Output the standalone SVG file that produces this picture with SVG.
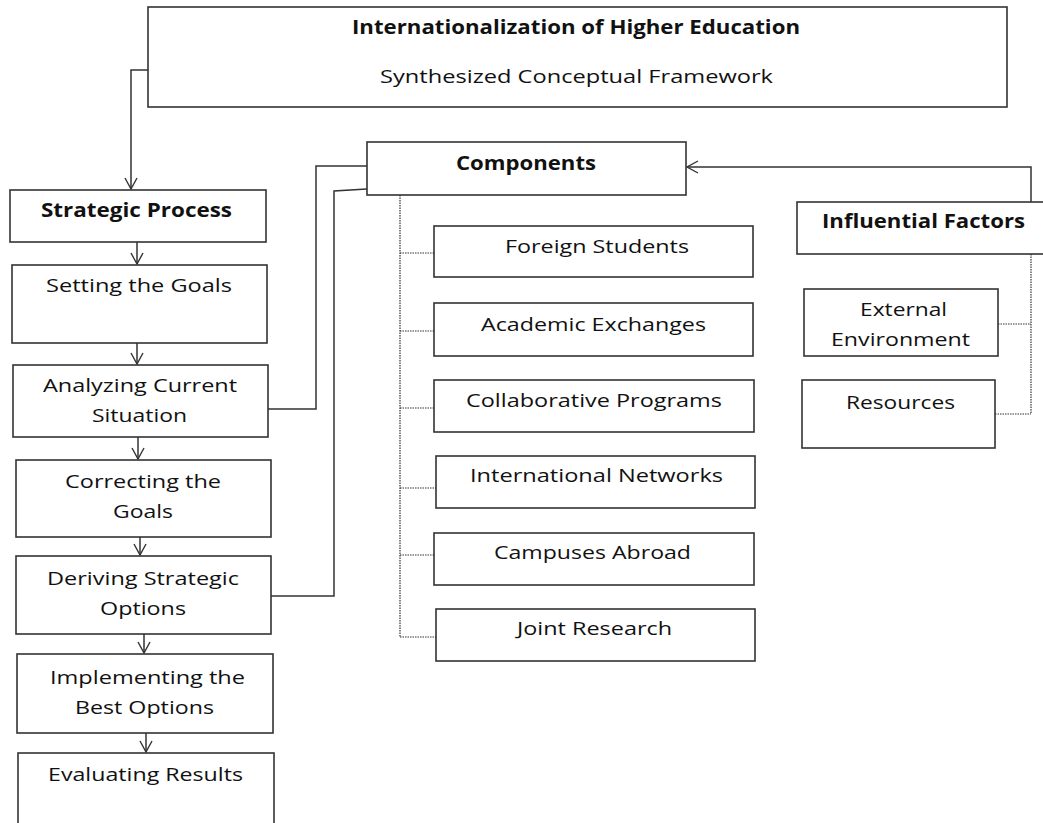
<svg xmlns="http://www.w3.org/2000/svg" width="1043" height="823" viewBox="0 0 1043 823">
<defs>
<marker id="arr" markerUnits="userSpaceOnUse" markerWidth="14" markerHeight="14" viewBox="0 0 14 14" refX="13" refY="7" orient="auto">
<path d="M2,1 L13,7 L2,13" fill="none" stroke="#333" stroke-width="1.4"/>
</marker>
</defs>
<style>
.box{fill:#fff;stroke:#333;stroke-width:1.6}
.t{font-family:"Open Sans","DejaVu Sans",sans-serif;font-size:19px;fill:#111}
.b{font-weight:bold}
.ln{fill:none;stroke:#333;stroke-width:1.5}
.dot{fill:none;stroke:#333;stroke-width:1.2;stroke-dasharray:1.5 1}
</style>
<rect width="1043" height="823" fill="#fff"/>
<g id="connectors">
<path class="ln" d="M148,70 H131 V189" marker-end="url(#arr)"/>
<path class="ln" d="M137,242 V264" marker-end="url(#arr)"/>
<path class="ln" d="M137,343 V364" marker-end="url(#arr)"/>
<path class="ln" d="M138,437 V459" marker-end="url(#arr)"/>
<path class="ln" d="M140,537 V555" marker-end="url(#arr)"/>
<path class="ln" d="M144,634 V653" marker-end="url(#arr)"/>
<path class="ln" d="M146,733 V752" marker-end="url(#arr)"/>
<path class="ln" d="M268,409 H316 V166 H367"/>
<path class="ln" d="M271,596 H334 V191 L367,189"/>
<path class="ln" d="M1031,202 V167 H687" marker-end="url(#arr)"/>
<path class="dot" d="M400,195 V637"/>
<path class="dot" d="M400,253 H434 M400,331 H434 M400,408 H434 M400,488 H436 M400,555 H434 M400,637 H436"/>
<path class="dot" d="M1031,254 V414"/>
<path class="dot" d="M998,324 H1031 M995,414 H1031"/>
</g>
<g id="n-title">
<rect class="box" x="148" y="7" width="859" height="100"/>
<text class="t b" x="352" y="34" textLength="448" lengthAdjust="spacingAndGlyphs">Internationalization of Higher Education</text>
<text class="t" x="380" y="83" textLength="393" lengthAdjust="spacingAndGlyphs">Synthesized Conceptual Framework</text>
</g>
<g id="n-strategic">
<rect class="box" x="10" y="190" width="256" height="52"/>
<text class="t b" x="41" y="217" textLength="191" lengthAdjust="spacingAndGlyphs">Strategic Process</text>
</g>
<g id="n-setting">
<rect class="box" x="12" y="265" width="255" height="78"/>
<text class="t" x="46" y="292" textLength="186" lengthAdjust="spacingAndGlyphs">Setting the Goals</text>
</g>
<g id="n-analyzing">
<rect class="box" x="13" y="365" width="255" height="72"/>
<text class="t" x="43" y="392" textLength="194" lengthAdjust="spacingAndGlyphs">Analyzing Current</text>
<text class="t" x="92" y="422" textLength="95" lengthAdjust="spacingAndGlyphs">Situation</text>
</g>
<g id="n-correcting">
<rect class="box" x="16" y="460" width="255" height="77"/>
<text class="t" x="65" y="488" textLength="156" lengthAdjust="spacingAndGlyphs">Correcting the</text>
<text class="t" x="113" y="518" textLength="60" lengthAdjust="spacingAndGlyphs">Goals</text>
</g>
<g id="n-deriving">
<rect class="box" x="16" y="556" width="255" height="78"/>
<text class="t" x="47" y="585" textLength="192" lengthAdjust="spacingAndGlyphs">Deriving Strategic</text>
<text class="t" x="100" y="615" textLength="86" lengthAdjust="spacingAndGlyphs">Options</text>
</g>
<g id="n-implementing">
<rect class="box" x="17" y="654" width="256" height="79"/>
<text class="t" x="50" y="684" textLength="195" lengthAdjust="spacingAndGlyphs">Implementing the</text>
<text class="t" x="75" y="714" textLength="139" lengthAdjust="spacingAndGlyphs">Best Options</text>
</g>
<g id="n-evaluating">
<rect class="box" x="18" y="753" width="256" height="80"/>
<text class="t" x="48" y="781" textLength="195" lengthAdjust="spacingAndGlyphs">Evaluating Results</text>
</g>
<g id="n-components">
<rect class="box" x="367" y="142" width="319" height="53"/>
<text class="t b" x="456" y="170" textLength="140" lengthAdjust="spacingAndGlyphs">Components</text>
</g>
<g id="n-foreign">
<rect class="box" x="434" y="226" width="319" height="51"/>
<text class="t" x="505" y="253" textLength="184" lengthAdjust="spacingAndGlyphs">Foreign Students</text>
</g>
<g id="n-academic">
<rect class="box" x="434" y="303" width="319" height="53"/>
<text class="t" x="481" y="331" textLength="225" lengthAdjust="spacingAndGlyphs">Academic Exchanges</text>
</g>
<g id="n-collab">
<rect class="box" x="434" y="380" width="320" height="52"/>
<text class="t" x="466" y="407" textLength="256" lengthAdjust="spacingAndGlyphs">Collaborative Programs</text>
</g>
<g id="n-intl">
<rect class="box" x="436" y="456" width="319" height="52"/>
<text class="t" x="470" y="482" textLength="253" lengthAdjust="spacingAndGlyphs">International Networks</text>
</g>
<g id="n-campuses">
<rect class="box" x="434" y="533" width="320" height="52"/>
<text class="t" x="494" y="559" textLength="197" lengthAdjust="spacingAndGlyphs">Campuses Abroad</text>
</g>
<g id="n-joint">
<rect class="box" x="436" y="609" width="319" height="52"/>
<text class="t" x="517" y="635" textLength="155" lengthAdjust="spacingAndGlyphs">Joint Research</text>
</g>
<g id="n-influential">
<rect class="box" x="797" y="202" width="260" height="52"/>
<text class="t b" x="822" y="228" textLength="203" lengthAdjust="spacingAndGlyphs">Influential Factors</text>
</g>
<g id="n-external">
<rect class="box" x="804" y="289" width="194" height="67"/>
<text class="t" x="860" y="316" textLength="87" lengthAdjust="spacingAndGlyphs">External</text>
<text class="t" x="831" y="346" textLength="139" lengthAdjust="spacingAndGlyphs">Environment</text>
</g>
<g id="n-resources">
<rect class="box" x="802" y="380" width="193" height="68"/>
<text class="t" x="846" y="409" textLength="109" lengthAdjust="spacingAndGlyphs">Resources</text>
</g>
</svg>
